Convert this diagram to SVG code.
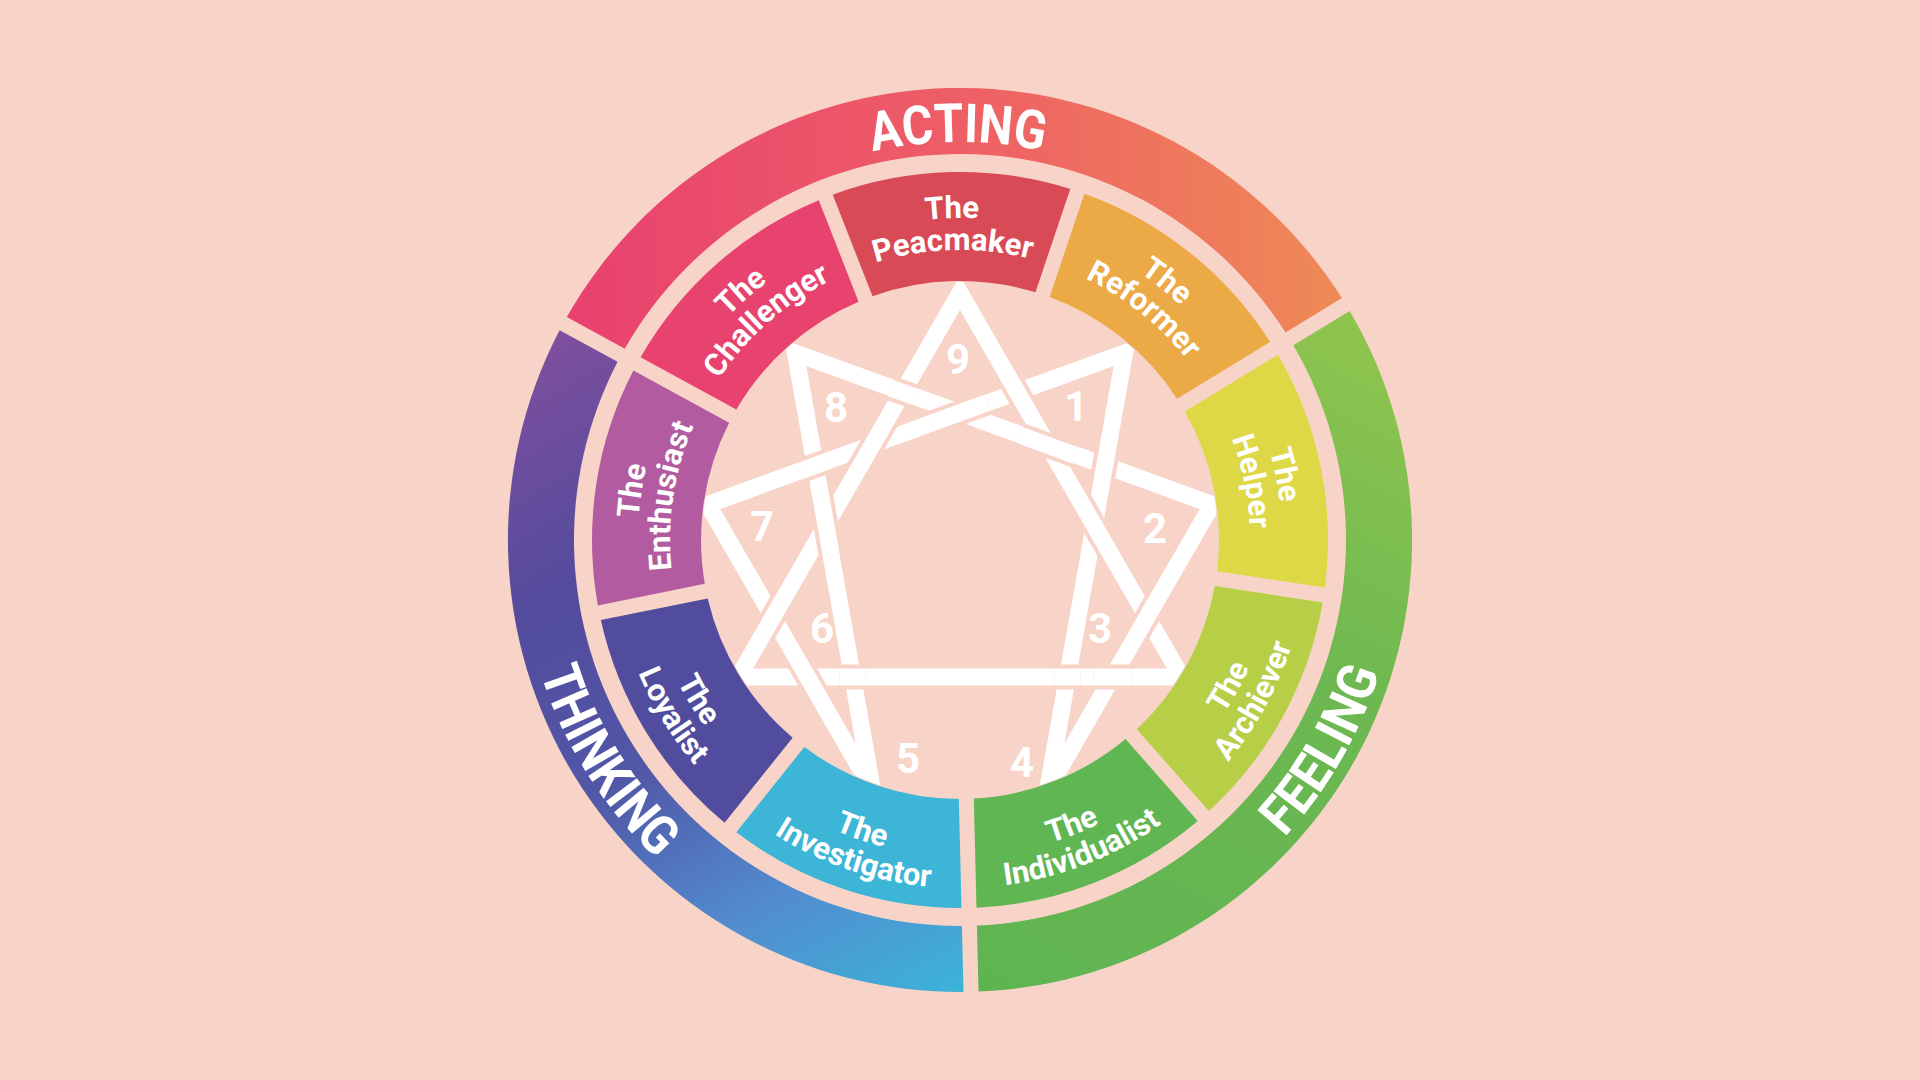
<svg xmlns="http://www.w3.org/2000/svg" width="1920" height="1080" viewBox="0 0 1920 1080">
<defs>
<style>
.lbl{font-family:Roboto,"Liberation Sans",sans-serif;font-weight:700;fill:#fff;font-size:31px;text-anchor:middle}
.big{font-family:Roboto,"Liberation Sans",sans-serif;font-weight:700;fill:#fff;font-size:54px;text-anchor:middle}
.num{font-family:Roboto,"Liberation Sans",sans-serif;font-weight:700;fill:#fff;font-size:42px;text-anchor:middle}
.band{fill:none;stroke:#fff;stroke-width:17;stroke-linejoin:miter;stroke-miterlimit:8}
.halo{fill:none;stroke:#F8D3C7;stroke-width:25;stroke-linecap:butt}
.over{fill:none;stroke:#fff;stroke-width:17;stroke-linecap:butt}
</style>
<linearGradient id="gAct" gradientUnits="userSpaceOnUse" x1="560" y1="300" x2="1350" y2="300">
<stop offset="0" stop-color="#E8406F"/><stop offset="0.5" stop-color="#EE5E66"/><stop offset="1" stop-color="#EE8B55"/>
</linearGradient>
<linearGradient id="gFeel" gradientUnits="userSpaceOnUse" x1="1350" y1="310" x2="1000" y2="990">
<stop offset="0" stop-color="#90C54E"/><stop offset="0.45" stop-color="#6DB851"/><stop offset="1" stop-color="#5FB452"/>
</linearGradient>
<linearGradient id="gThink" gradientUnits="userSpaceOnUse" x1="580" y1="320" x2="960" y2="990">
<stop offset="0" stop-color="#7E4F9E"/><stop offset="0.3" stop-color="#534B9D"/><stop offset="0.55" stop-color="#5158A8"/><stop offset="0.78" stop-color="#528CCF"/><stop offset="1" stop-color="#3CB3D8"/>
</linearGradient>
<path id="tA" d="M799,261.1 A322,322 0 0 1 1121,261.1"/>
<path id="tB" d="M815,288.9 A290,290 0 0 1 1105,288.9"/>
<path id="bA" d="M802,813.7 A316,316 0 0 0 1118,813.7"/>
<path id="bB" d="M786,841.4 A348,348 0 0 0 1134,841.4"/>
<path id="oT" d="M761,195.3 A398,398 0 0 1 1159,195.3"/>
<path id="oB" d="M740,921 A440,440 0 0 0 1180,921"/>
<path id="seg" d="M841.2,191.7 A368,368 0 0 1 1078.8,191.7 L1041.5,294.2 A259,259 0 0 0 878.5,294.2 Z"/>
<clipPath id="starClip"><circle cx="960" cy="540" r="258"/></clipPath>
</defs>
<rect width="1920" height="1080" fill="#F8D3C7"/>

<g id="ring-acting">
<path d="M566.8,317.1 A452,452 0 0 1 1341.9,298.1 L1285.5,332.5 A386,386 0 0 0 624.8,348.7 Z" fill="url(#gAct)"/>
<text class="big" transform="rotate(-0.3 960 540)"><textPath href="#oT" startOffset="50%" textLength="172" lengthAdjust="spacingAndGlyphs">ACTING</textPath></text>
</g>
<g id="ring-feeling">
<path d="M1349.7,310.9 A452,452 0 0 1 978.5,991.6 L976.9,925.6 A386,386 0 0 0 1293.3,345.3 Z" fill="url(#gFeel)"/>
<text class="big" transform="rotate(-60 960 540)"><textPath href="#oB" startOffset="50%" textLength="192" lengthAdjust="spacingAndGlyphs">FEELING</textPath></text>
</g>
<g id="ring-thinking">
<path d="M963.5,992 A452,452 0 0 1 559.6,330.2 L617.6,361.8 A386,386 0 0 0 961.9,926 Z" fill="url(#gThink)"/>
<text class="big" transform="rotate(58 960 540)"><textPath href="#oB" startOffset="50%" textLength="222" lengthAdjust="spacingAndGlyphs">THINKING</textPath></text>
</g>

<g id="node-peacemaker">
<use href="#seg" fill="#D94A57" transform="rotate(-1.4 960 540)"/>
<g transform="rotate(-1.4 960 540)">
<text class="lbl"><textPath href="#tA" startOffset="50%">The</textPath></text>
<text class="lbl"><textPath href="#tB" startOffset="50%">Peacmaker</textPath></text>
</g>
</g>
<g id="node-reformer">
<use href="#seg" fill="#EBAA45" transform="rotate(38.6 960 540)"/>
<g transform="rotate(38.6 960 540)">
<text class="lbl"><textPath href="#tA" startOffset="50%">The</textPath></text>
<text class="lbl"><textPath href="#tB" startOffset="50%">Reformer</textPath></text>
</g>
</g>
<g id="node-helper">
<use href="#seg" fill="#DED746" transform="rotate(78.6 960 540)"/>
<g transform="rotate(78.6 960 540)">
<text class="lbl"><textPath href="#tA" startOffset="50%">The</textPath></text>
<text class="lbl"><textPath href="#tB" startOffset="50%">Helper</textPath></text>
</g>
</g>
<g id="node-achiever">
<use href="#seg" fill="#B6CF47" transform="rotate(118.6 960 540)"/>
<g transform="rotate(-61.4 960 540)">
<text class="lbl"><textPath href="#bA" startOffset="50%">The</textPath></text>
<text class="lbl"><textPath href="#bB" startOffset="50%">Archiever</textPath></text>
</g>
</g>
<g id="node-individualist">
<use href="#seg" fill="#5FB653" transform="rotate(158.6 960 540)"/>
<g transform="rotate(-21.4 960 540)">
<text class="lbl"><textPath href="#bA" startOffset="50%">The</textPath></text>
<text class="lbl"><textPath href="#bB" startOffset="50%">Individualist</textPath></text>
</g>
</g>
<g id="node-investigator">
<use href="#seg" fill="#3DB5D6" transform="rotate(198.6 960 540)"/>
<g transform="rotate(18.6 960 540)">
<text class="lbl"><textPath href="#bA" startOffset="50%">The</textPath></text>
<text class="lbl"><textPath href="#bB" startOffset="50%">Investigator</textPath></text>
</g>
</g>
<g id="node-loyalist">
<use href="#seg" fill="#524C9F" transform="rotate(238.6 960 540)"/>
<g transform="rotate(58.6 960 540)">
<text class="lbl"><textPath href="#bA" startOffset="50%">The</textPath></text>
<text class="lbl"><textPath href="#bB" startOffset="50%">Loyalist</textPath></text>
</g>
</g>
<g id="node-enthusiast">
<use href="#seg" fill="#B25BA0" transform="rotate(-81.4 960 540)"/>
<g transform="rotate(-81.4 960 540)">
<text class="lbl"><textPath href="#tA" startOffset="50%">The</textPath></text>
<text class="lbl"><textPath href="#tB" startOffset="50%">Enthusiast</textPath></text>
</g>
</g>
<g id="node-challenger">
<use href="#seg" fill="#E8436F" transform="rotate(-41.4 960 540)"/>
<g transform="rotate(-41.4 960 540)">
<text class="lbl"><textPath href="#tA" startOffset="50%">The</textPath></text>
<text class="lbl"><textPath href="#tB" startOffset="50%">Challenger</textPath></text>
</g>
</g>

<g id="enneagram-lines" clip-path="url(#starClip)">
<g transform="translate(960,549)">
<path class="band" d="M0,-256 L221.7,128 L-221.7,128 Z"/>
<path class="band" d="M164.6,-196.1 L87.6,240.6 L252.1,-44.5 L-164.6,-196.1 L-87.6,240.6 L-252.1,-44.5 Z"/>
<path class="halo" d="M119.1,-49.7 L149.1,2.3"/><path class="over" d="M119.1,-49.7 L149.1,2.3"/>
<path class="halo" d="M177.6,84.6 L196.6,51.6"/><path class="over" d="M177.6,84.6 L196.6,51.6"/>
<path class="halo" d="M59.8,-113.9 L116.2,-93.3"/><path class="over" d="M59.8,-113.9 L116.2,-93.3"/>
<path class="halo" d="M50.9,-167.9 L63.9,-145.3"/><path class="over" d="M50.9,-167.9 L63.9,-145.3"/>
<path class="halo" d="M94.4,128 L120.4,128"/><path class="over" d="M94.4,128 L120.4,128"/>
<path class="halo" d="M133.5,128 L171.5,128"/><path class="over" d="M133.5,128 L171.5,128"/>
<path class="halo" d="M-120.4,128 L-94.4,128"/><path class="over" d="M-120.4,128 L-94.4,128"/>
<path class="halo" d="M-162,111.5 L-143,144.5"/><path class="over" d="M-162,111.5 L-143,144.5"/>
<path class="halo" d="M-139.3,-53.2 L-128.9,5.8"/><path class="over" d="M-139.3,-53.2 L-128.9,5.8"/>
<path class="halo" d="M-196.6,84.6 L-177.6,51.6"/><path class="over" d="M-196.6,84.6 L-177.6,51.6"/>
<path class="halo" d="M-69.6,-161 L-45.2,-152.2"/><path class="over" d="M-69.6,-161 L-45.2,-152.2"/>
<path class="halo" d="M-103,-77.6 L-73,-129.6"/><path class="over" d="M-103,-77.6 L-73,-129.6"/>
<path class="halo" d="M142.4,-70.7 L147,-96.3"/><path class="over" d="M142.4,-70.7 L147,-96.3"/>
<path class="halo" d="M-28.2,-125.9 L28.2,-146.5"/><path class="over" d="M-28.2,-125.9 L28.2,-146.5"/>
<path class="halo" d="M-156.9,-79.1 L-132.5,-87.9"/><path class="over" d="M-156.9,-79.1 L-132.5,-87.9"/>
</g>
</g>

<g id="numbers">
<text class="num" x="958" y="374">9</text>
<text class="num" x="836" y="422">8</text>
<text class="num" x="1076" y="421">1</text>
<text class="num" x="762" y="541">7</text>
<text class="num" x="1155" y="543">2</text>
<text class="num" x="822" y="643">6</text>
<text class="num" x="1100" y="643">3</text>
<text class="num" x="908" y="773">5</text>
<text class="num" x="1022" y="777">4</text>
</g>
</svg>
